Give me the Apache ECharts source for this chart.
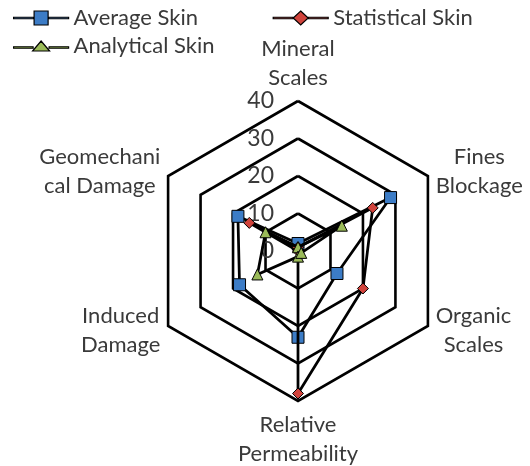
<!DOCTYPE html>
<html><head><meta charset="utf-8">
<script src="https://cdn.jsdelivr.net/npm/echarts@6/dist/echarts.min.js"></script>
<style>html,body{margin:0;padding:0;background:#fff}#c{width:530px;height:466px}</style>
</head><body><div id="c"></div>
<script>
// Categories listed clockwise from the top
const categories = ['Mineral\nScales', 'Fines\nBlockage', 'Organic\nScales', 'Relative\nPermeability', 'Induced\nDamage', 'Geomechani\ncal Damage'];
const seriesNames = ['Average Skin', 'Statistical Skin', 'Analytical Skin'];
const averageSkin = [2, 28.5, 12, 23, 18, 18.5];
const statisticalSkin = [1, 23, 20, 38, 0, 15];
const analyticalSkin = [1, 13.5, 1, 1.5, 12.5, 10];
const axisMin = 0, axisMax = 40, axisSplits = 4;

const FONT = 'Lato';
const FS = 22;
const TXT = '#3a3a3a';
// ECharts radar places indicators counter-clockwise; reorder to draw clockwise
const order = [0, 5, 4, 3, 2, 1];
const reorder = arr => order.map(i => arr[i]);

const indicators = reorder(categories).map((n, k) => {
  const o = { name: n, min: axisMin, max: axisMax };
  if (k === 0) o.axisLabel = { show: true, color: TXT, fontSize: FS + 1, fontFamily: FONT, margin: 24 };
  return o;
});

const colors = ['#3c7cc6', '#d0433c', '#9bbb59'];
const symbols = ['rect', 'diamond', 'triangle'];
const sizes = [12, 11, 11];
const values = [averageSkin, statisticalSkin, analyticalSkin];
const icons = [
  'path://M0,6.75H20V8.25H0Z M35,6.75H55V8.25H35Z M20.5,0.5H34.5V14.5H20.5Z',
  'path://M0,6.75H20V8.25H0Z M35,6.75H55V8.25H35Z M27.5,0.5L35,7.5L27.5,14.5L20,7.5Z',
  'path://M0,8.75H19.5V10.25H0Z M35.5,8.75H55V10.25H35.5Z M27.5,3L36,13L19,13Z'
];

const series = seriesNames.map((name, i) => ({
  type: 'radar',
  name: name,
  symbol: symbols[i],
  symbolSize: sizes[i],
  itemStyle: { color: colors[i], borderColor: '#000', borderWidth: 1 },
  lineStyle: { color: '#000', width: 2.75 },
  z: 2 + i,
  data: [{ name: name, value: reorder(values[i]) }]
}));

const legendCommon = {
  left: 13, padding: 0, itemWidth: 55, itemHeight: 15, itemGap: 54,
  symbolKeepAspect: true,
  itemStyle: { borderColor: '#000', borderWidth: 1.2 },
  textStyle: { color: TXT, fontSize: FS, fontFamily: FONT, width: 145, lineHeight: 24 }
};

const option = {
  animation: false,
  backgroundColor: '#fff',
  textStyle: { fontFamily: FONT },
  legend: [
    Object.assign({}, legendCommon, { top: 6, data: [
      { name: seriesNames[0], icon: icons[0] }, { name: seriesNames[1], icon: icons[1] }] }),
    Object.assign({}, legendCommon, { top: 34, data: [
      { name: seriesNames[2], icon: icons[2] }] })
  ],
  radar: {
    center: [298, 251],
    radius: 150,
    startAngle: 90,
    shape: 'polygon',
    splitNumber: axisSplits,
    indicator: indicators,
    nameGap: 9,
    axisName: {
      color: TXT, fontSize: FS, fontFamily: FONT,
      formatter: n => n.split('\n').map(s => '{c|' + s + '}').join('\n'),
      rich: { c: { align: 'center', color: TXT, fontSize: FS, fontFamily: FONT, lineHeight: 29 } }
    },
    axisLine: { show: false },
    axisTick: { show: false },
    axisLabel: { show: false },
    splitLine: { lineStyle: { color: '#000', width: 2.6 } },
    splitArea: { show: false }
  },
  series: series
};
const chart = echarts.init(document.getElementById('c'), null, { renderer: 'canvas' });
chart.setOption(option);
</script></body></html>
